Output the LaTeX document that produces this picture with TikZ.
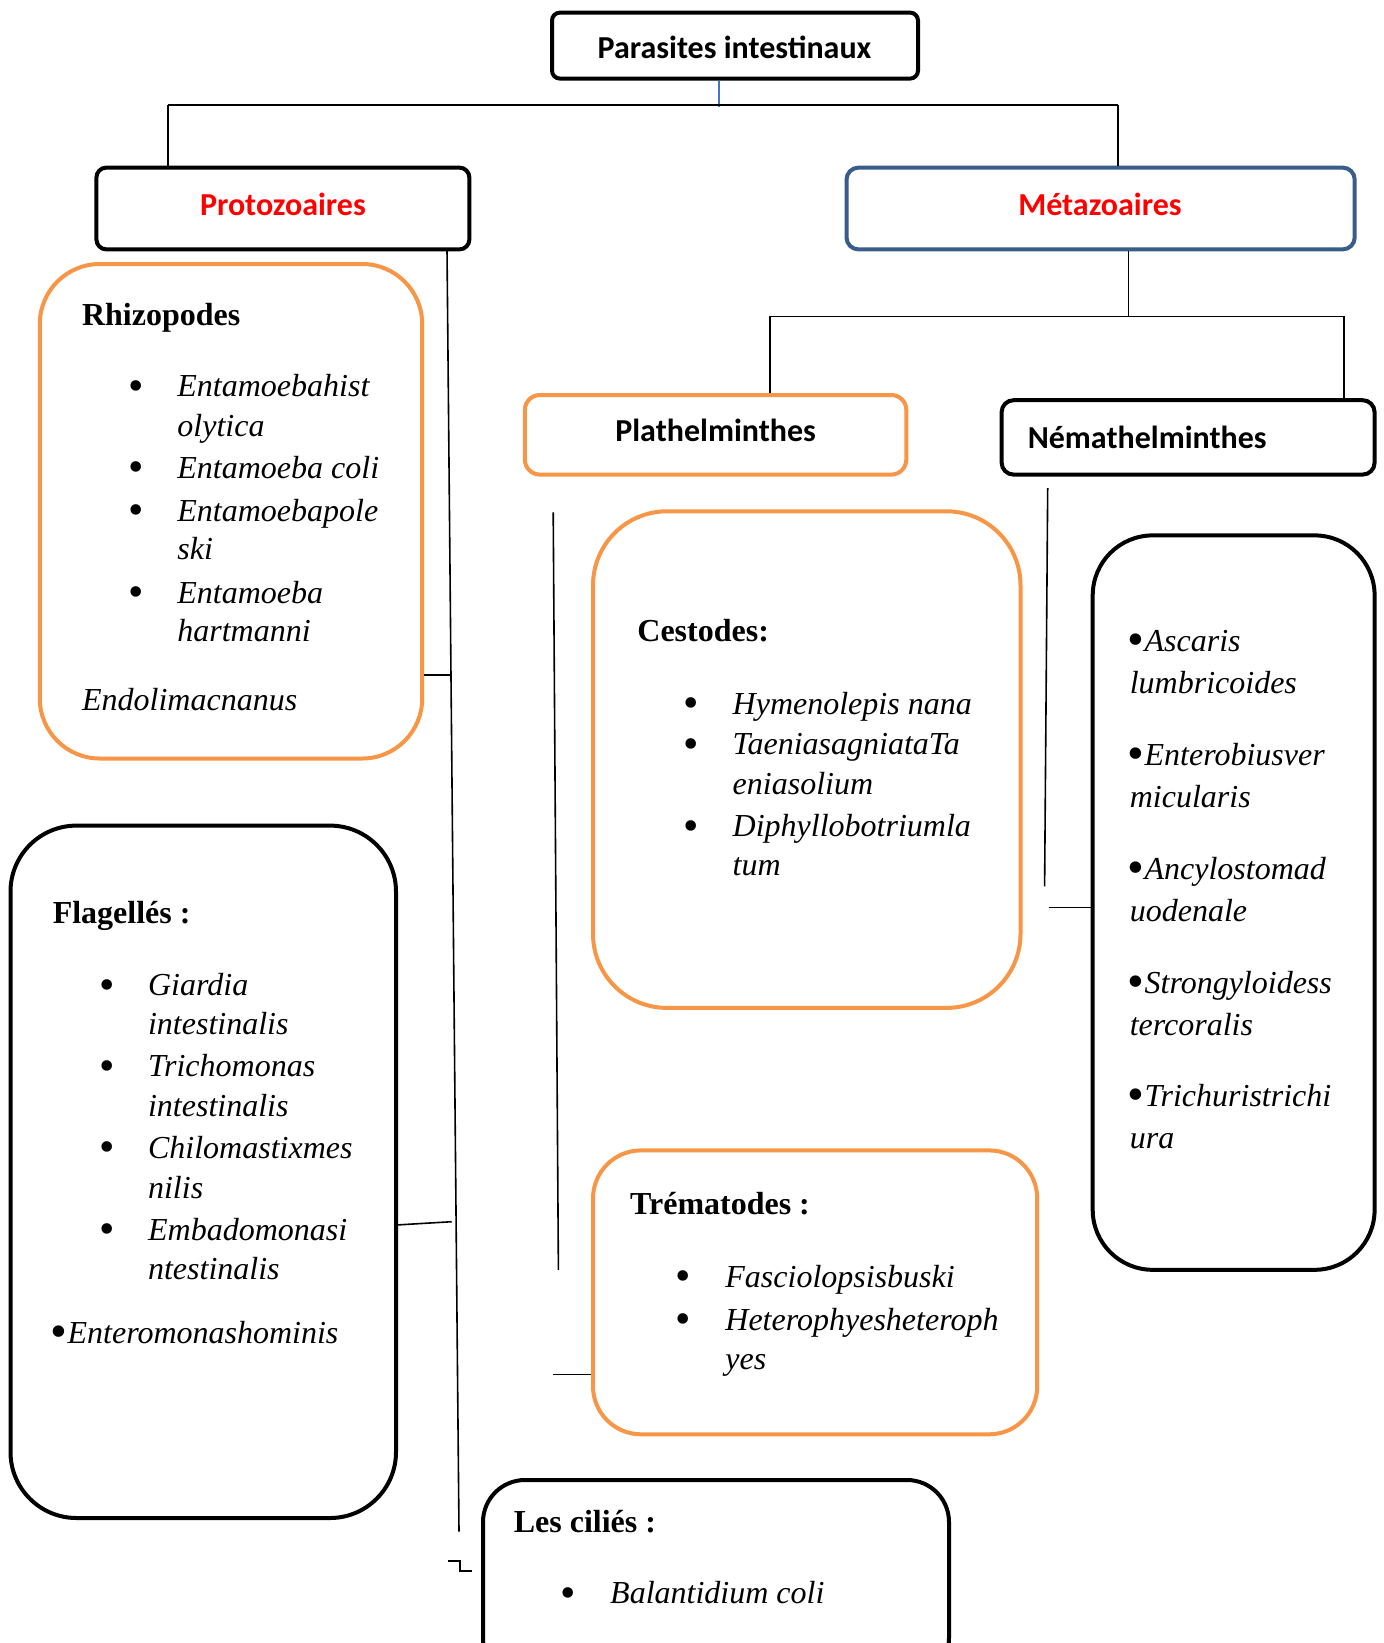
\documentclass[tikz,border=0pt]{standalone}
\usepackage{fontspec}
\setmainfont{Liberation Serif}
\newfontfamily\calibri{Carlito}
\definecolor{orng}{RGB}{247,150,70}
\definecolor{bluebox}{RGB}{56,93,138}
\definecolor{blueln}{RGB}{68,114,196}
\newcommand{\ibul}{{\fontsize{24}{19}\selectfont\upshape\raisebox{-2pt}{•}}}
\begin{document}
\begin{tikzpicture}[x=0.5pt,y=-0.5pt,
  box/.style={draw=black,line width=2pt,inner sep=0pt,rectangle},
  obox/.style={box,draw=orng},
  conn/.style={line width=0.8pt,draw=black},
  title/.style={anchor=base,inner sep=0pt,font=\calibri\bfseries\fontsize{16}{19}\selectfont},
  txt/.style={anchor=base west,inner sep=0pt,font=\fontsize{16}{19}\selectfont\itshape},
  hd/.style={anchor=base west,inner sep=0pt,font=\fontsize{16}{19}\selectfont\bfseries},
  bul/.style={anchor=center,inner sep=0pt,yshift=3.2pt,font=\fontsize{22}{19}\selectfont}]
\useasboundingbox (0,0) rectangle (1383,1643);
\clip (0,0) rectangle (1383,1643);
\fill[white] (0,0) rectangle (1383,1643);

% boxes
\node[box,rounded corners=4pt,minimum width=183pt,minimum height=33pt] (top) at (735,45.6) {};
\node[box,rounded corners=5pt,minimum width=186.5pt,minimum height=40.9pt] (proto) at (282.9,208.5) {};
\node[box,draw=bluebox,rounded corners=6pt,minimum width=254.1pt,minimum height=40.9pt] (meta) at (1100.6,208.5) {};
\node[obox,rounded corners=30pt,minimum width=191.2pt,minimum height=247.25pt] (rhizo) at (231,511.25) {};
\node[box,rounded corners=33pt,minimum width=192.75pt,minimum height=346.2pt] (flag) at (203.25,1171.8) {};
\node[box,rounded corners=21pt,minimum width=233pt,minimum height=100pt] (cil) at (716,1580) {};
\node[obox,rounded corners=7.5pt,minimum width=190.7pt,minimum height=39.8pt] (plat) at (715.6,434.8) {};
\node[box,rounded corners=6pt,minimum width=186.5pt,minimum height=37.2pt] (nemat) at (1188.1,437.4) {};
\node[obox,rounded corners=37pt,minimum width=213.75pt,minimum height=248.3pt] (cest) at (806.75,759.6) {};
\node[obox,rounded corners=24pt,minimum width=222.1pt,minimum height=141.95pt] (trem) at (815.1,1292.35) {};
\node[box,rounded corners=30pt,minimum width=140.95pt,minimum height=367.2pt] (nemlist) at (1233.65,902.6) {};

% titles
\node[title] (tTop) at (734.5,58.2) {Parasites intestinaux};
\node[title,text=red] (tProto) at (282.9,215.3) {Protozoaires};
\node[title,text=red] (tMeta) at (1100,215.3) {Métazoaires};
\node[title] (tPlat) at (715.6,441.7) {Plathelminthes};
\node[title] (tNem) at (1147.2,448) {Némathelminthes};

% Rhizopodes
\node[hd] (rh) at (81.7,325.4) {Rhizopodes};
\node[bul] (rb1) at (136.2,396.6) {•};
\node[txt] (r1) at (177,396.6) {Entamoebahist};
\node[txt] (r1b) at (177,436.4) {olytica};
\node[bul] (rb2) at (136.2,478.3) {•};
\node[txt] (r2) at (177,478.3) {Entamoeba coli};
\node[bul] (rb3) at (136.2,521.3) {•};
\node[txt] (r3) at (177,521.3) {Entamoebapole};
\node[txt] (r3b) at (177,559) {ski};
\node[bul] (rb4) at (136.2,603) {•};
\node[txt] (r4) at (177,603) {Entamoeba};
\node[txt] (r4b) at (177,641.7) {hartmanni};
\node[txt] (r5) at (81.7,710.9) {Endolimacnanus};

% Flagelles
\node[hd] (fh) at (52.4,923.6) {Flagellés :};
\node[bul] (fb1) at (106.9,995.9) {•};
\node[txt] (f1) at (147.7,995.9) {Giardia};
\node[txt] (f1b) at (147.7,1034.7) {intestinalis};
\node[bul] (fb2) at (106.9,1076.6) {•};
\node[txt] (f2) at (147.7,1076.6) {Trichomonas};
\node[txt] (f2b) at (147.7,1116.4) {intestinalis};
\node[bul] (fb3) at (106.9,1158.3) {•};
\node[txt] (f3) at (147.7,1158.3) {Chilomastixmes};
\node[txt] (f3b) at (147.7,1198.1) {nilis};
\node[bul] (fb4) at (106.9,1240) {•};
\node[txt] (f4) at (147.7,1240) {Embadomonasi};
\node[txt] (f4b) at (147.7,1279.8) {ntestinalis};
\node[txt] (f5) at (50.4,1343.7) {\ibul Enteromonashominis};

% Les cilies
\node[hd] (ch) at (513.4,1532.3) {Les ciliés :};
\node[bul] (cb1) at (567.9,1603.6) {•};
\node[txt] (c1) at (609.8,1603.6) {Balantidium coli};

% Cestodes
\node[hd] (csh) at (637,641.8) {Cestodes:};
\node[bul] (csb1) at (691.5,714) {•};
\node[txt] (cs1) at (732.3,714) {Hymenolepis nana};
\node[bul] (csb2) at (691.5,754.9) {•};
\node[txt] (cs2) at (732.3,754.9) {TaeniasagniataTa};
\node[txt] (cs2b) at (732.3,794.7) {eniasolium};
\node[bul] (csb3) at (691.5,836.6) {•};
\node[txt] (cs3) at (732.3,836.6) {Diphyllobotriumla};
\node[txt] (cs3b) at (732.3,875.4) {tum};

% Trematodes
\node[hd] (th) at (629.7,1214.9) {Trématodes :};
\node[bul] (tb1) at (683.1,1287.1) {•};
\node[txt] (t1) at (725,1287.1) {Fasciolopsisbuski};
\node[bul] (tb2) at (683.1,1330.1) {•};
\node[txt] (t2) at (725,1330.1) {Heterophyesheteroph};
\node[txt] (t2b) at (725,1369.9) {yes};

% Nemathelminthes list
\node[txt] (n1) at (1127.4,651.2) {\ibul Ascaris};
\node[txt] (n1b) at (1129.4,693.1) {lumbricoides};
\node[txt] (n2) at (1127.4,765.4) {\ibul Enterobiusver};
\node[txt] (n2b) at (1129.4,807.3) {micularis};
\node[txt] (n3) at (1127.4,879.6) {\ibul Ancylostomad};
\node[txt] (n3b) at (1129.4,921.5) {uodenale};
\node[txt] (n4) at (1127.4,993.8) {\ibul Strongyloidess};
\node[txt] (n4b) at (1129.4,1035.7) {tercoralis};
\node[txt] (n5) at (1127.4,1106.9) {\ibul Trichuristrichi};
\node[txt] (n5b) at (1129.4,1148.8) {ura};

% connector coordinates
\coordinate (bl) at (719,107);
\coordinate (hL) at (168,104.8);
\coordinate (hR) at (1118,104.8);
\coordinate (mD) at (1128.4,316.4);
\coordinate (mL) at (770,316.4);
\coordinate (mR) at (1344.2,316.4);
\coordinate (pT) at (447,249.4);
\coordinate (pB) at (459,1531.7);
\coordinate (rJ) at (450.3,675);
\coordinate (fA) at (396,1225);
\coordinate (fJ) at (451.7,1221.7);
\coordinate (s1) at (448.3,1560.7);
\coordinate (s2) at (460,1560.7);
\coordinate (s3) at (460,1570.7);
\coordinate (s4) at (471.7,1570.7);
\coordinate (plT) at (553.2,512.3);
\coordinate (plB) at (558.4,1269.8);
\coordinate (trJ) at (553.2,1374.6);
\coordinate (nT) at (1047.7,488.2);
\coordinate (nB) at (1044.6,886.4);
\coordinate (nJ) at (1048.7,907.3);

% connectors
\draw[blueln,line width=0.6pt] (top.south -| bl) -- (bl);
\draw[conn] (hL) -- (hR);
\draw[conn] (hL) -- (hL |- proto.north);
\draw[conn] (hR) -- (hR |- meta.north);
\draw[conn] (meta.south -| mD) -- (mD);
\draw[conn] (mL) -- (mR);
\draw[conn] (mL) -- (mL |- plat.north);
\draw[conn] (mR) -- (mR |- nemat.north);
\draw[conn] (pT) -- (pB);
\draw[conn] (rJ -| rhizo.east) -- (rJ);
\draw[conn] (fA) -- (fJ);
\draw[conn] (s1) -- (s2) -- (s3) -- (s4);
\draw[conn] (plT) -- (plB);
\draw[conn] (trJ) -- (trJ -| trem.west);
\draw[conn] (nT) -- (nB);
\draw[conn] (nJ) -- (nJ -| nemlist.west);
\end{tikzpicture}
\end{document}
